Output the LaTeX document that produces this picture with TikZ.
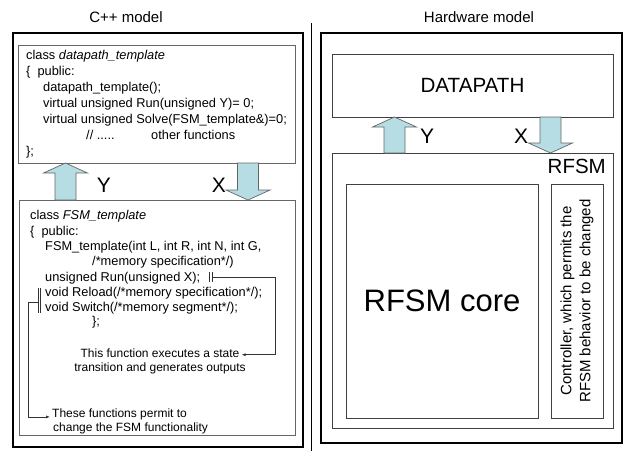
\documentclass[tikz,border=0pt]{standalone}
\usepackage{fontspec}
\setmainfont{Liberation Sans}
\usetikzlibrary{arrows.meta,positioning,calc}

\definecolor{arrowfill}{RGB}{183,221,228}

\tikzset{
  frame/.style={draw, line width=1.6pt, anchor=north west, inner sep=0, outer sep=0},
  codebox/.style={draw=black!60, line width=0.8pt, anchor=north west, inner sep=0, outer sep=0},
  hwbox/.style={draw=black!75, line width=0.8pt, anchor=north west, inner sep=0, outer sep=0},
  code/.style={anchor=base west, inner sep=0, font=\fontsize{12.8}{15}\selectfont},
  note/.style={inner sep=0, font=\fontsize{12}{14}\selectfont},
  sig/.style={anchor=base, inner sep=0, font=\fontsize{21}{24}\selectfont},
  blockarrow/.style={draw=black!60, line width=0.7pt, fill=arrowfill, line join=miter},
  marker/.style={line width=0.6pt, draw=black!80},
}

\begin{document}
\begin{tikzpicture}[x=1pt, y=-1pt, >={Latex[length=4pt,width=3pt]}]
  \useasboundingbox (0,0) rectangle (623,451);

  % titles and separator
  \node[anchor=base, font=\fontsize{15}{18}\selectfont] (cpptitle) at (126,22) {C++ model};
  \node[anchor=base, font=\fontsize{15}{18}\selectfont] (hwtitle) at (479,22) {Hardware model};
  \draw[line width=0.8pt] (311,23) -- (311,451);

  % C++ model
  \node[frame, minimum width=290, minimum height=414] (cppframe) at (13,33) {};
  \node[codebox, minimum width=277, minimum height=118] (dpcode) at (18,45) {};
  \node[codebox, minimum width=276, minimum height=235] (fsmcode) at (19,200) {};

  \node[code] (dp1) at (26,59.5) {class \textit{datapath\_template}};
  \node[code] (dp2) at (26,75.5) {\{\ \ public:};
  \node[code] (dp3) at (43,91.5) {datapath\_template();};
  \node[code] (dp4) at (43,107.5) {virtual unsigned Run(unsigned Y)= 0;};
  \node[code] (dp5) at (43,123.5) {virtual unsigned Solve(FSM\_template\&)=0;};
  \node[code] (dp6) at (86,139) {\makebox[65pt][l]{// .....}other functions};
  \node[code] (dp7) at (26,155) {\};};

  \node[code] (fsm1) at (30,219.5) {class \textit{FSM\_template}};
  \node[code] (fsm2) at (30,235) {\{\ \ public:};
  \node[code] (fsm3) at (45,250.5) {FSM\_template(int L, int R, int N, int G,};
  \node[code] (fsm4) at (92,265.5) {/*memory specification*/)};
  \node[code] (fsm5) at (45,281) {unsigned Run(unsigned X);};
  \node[code] (fsm6) at (45,296) {void Reload(/*memory specification*/);};
  \node[code] (fsm7) at (45,311) {void Switch(/*memory segment*/);};
  \node[code] (fsm8) at (92,325) {\};};

  \node[note, anchor=base] (runnote1) at (160,357) {This function executes a state};
  \node[note, anchor=base] (runnote2) at (160,371) {transition and generates outputs};
  \node[note, anchor=base west] (funnote1) at (52,417) {These functions permit to};
  \node[note, anchor=base west] (funnote2) at (53,431) {change the FSM functionality};

  % markers and pointers
  \coordinate (runmark) at (212,277);
  \coordinate (relmark) at (38,302);
  \draw[marker] (runmark) ++(-2.5,-5) -- ++(0,10) (runmark) ++(0,-5) -- ++(0,10);
  \draw[marker] (relmark) ++(0,-14) -- ++(0,25) (relmark) ++(2.5,-14) -- ++(0,25);
  \draw[marker, ->] (runmark) -- ++(63,0) |- ([xshift=2pt,yshift=-2pt]runnote1.east);
  \draw[marker, ->] (relmark) -- ++(-10,0) |- ([xshift=-2pt,yshift=-3pt]funnote1.west);

  % Y and X between the classes
  \coordinate (yL) at (65.5,0);
  \coordinate (xL) at (248,0);
  \draw[blockarrow] (yL |- dpcode.south) -- ++(22,10) -- ++(-11.5,0)
    -- ($(yL |- fsmcode.north)+(10.5,0)$) -- ++(-21,0)
    -- ($(yL |- dpcode.south)+(-10.5,10)$) -- ++(-11.5,0) -- cycle;
  \draw[blockarrow] (xL |- fsmcode.north) -- ++(-22,-10) -- ++(11.5,0)
    -- ($(xL |- dpcode.south)+(-10.5,0)$) -- ++(21,0)
    -- ($(xL |- fsmcode.north)+(10.5,-10)$) -- ++(11.5,0) -- cycle;
  \node[sig] (ylabL) at (104,192) {Y};
  \node[sig] (xlabL) at (219,192) {X};

  % Hardware model
  \node[frame, minimum width=301, minimum height=410] (hwframe) at (321,33) {};
  \node[hwbox, minimum width=281, minimum height=63, font=\fontsize{20.6}{24}\selectfont] (datapath) at (332,54) {DATAPATH};
  \node[hwbox, minimum width=281, minimum height=275] (rfsm) at (332,153) {};
  \node[anchor=base east, inner sep=0, font=\fontsize{20.5}{24}\selectfont] (rfsmlabel) at (606,173) {RFSM};
  \node[hwbox, minimum width=192, minimum height=234, font=\fontsize{31}{36}\selectfont] (core) at (346,184) {RFSM core};
  \node[hwbox, minimum width=52, minimum height=234] (ctrl) at (551,184) {};
  \node[rotate=90, align=center, inner sep=0, font=\fontsize{15}{19}\selectfont] (ctrltext) at (ctrl.center)
    {Controller, which permits the\\RFSM behavior to be changed};

  \coordinate (yR) at (394.5,0);
  \coordinate (xR) at (550.5,0);
  \draw[blockarrow] (yR |- datapath.south) -- ++(22,10) -- ++(-11.5,0)
    -- ($(yR |- rfsm.north)+(10.5,0)$) -- ++(-21,0)
    -- ($(yR |- datapath.south)+(-10.5,10)$) -- ++(-11.5,0) -- cycle;
  \draw[blockarrow] (xR |- rfsm.north) -- ++(-22,-10) -- ++(11.5,0)
    -- ($(xR |- datapath.south)+(-10.5,0)$) -- ++(21,0)
    -- ($(xR |- rfsm.north)+(10.5,-10)$) -- ++(11.5,0) -- cycle;
  \node[sig] (ylabR) at (427,143) {Y};
  \node[sig] (xlabR) at (521,143) {X};
\end{tikzpicture}
\end{document}
